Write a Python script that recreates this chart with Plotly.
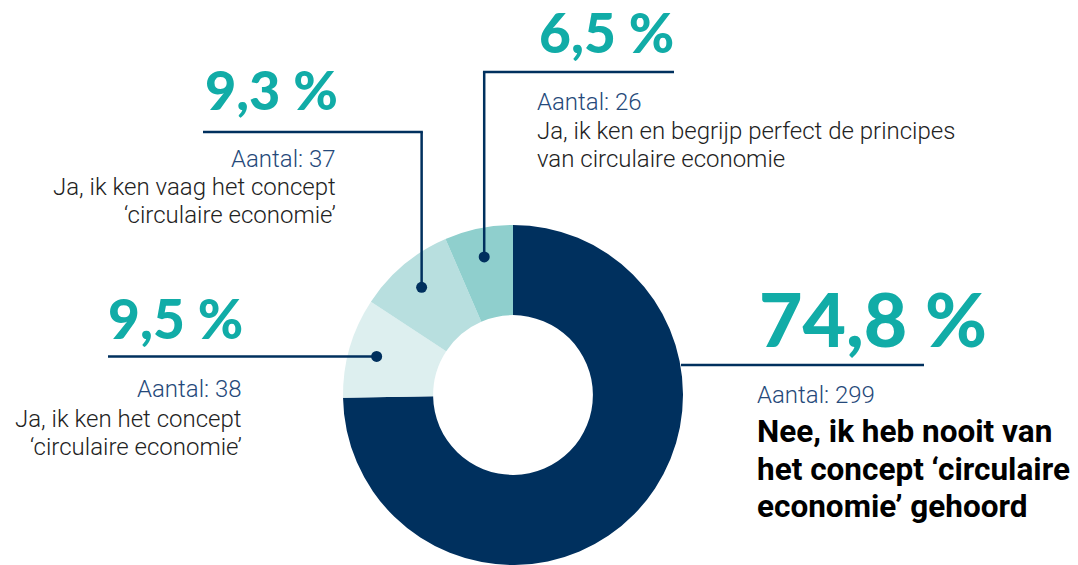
import math
import plotly.graph_objects as go

W, H = 1078, 565

# ---- data ----
categories = [
    "Nee, ik heb nooit van het concept ‘circulaire economie’ gehoord",
    "Ja, ik ken het concept ‘circulaire economie’",
    "Ja, ik ken vaag het concept ‘circulaire economie’",
    "Ja, ik ken en begrijp perfect de principes van circulaire economie",
]
counts = [299, 38, 37, 26]
percent_labels = ["74,8 %", "9,5 %", "9,3 %", "6,5 %"]
slice_colors = ["#00305e", "#ddefef", "#b8dfdf", "#8fcfcd"]

NAVY = "#00305e"
TEAL = "#11aca7"
AANTAL = "#25497a"
BODY = "#222222"

# pie geometry (pixels)
CX, CY, R = 513, 396, 171


def px(x):
    return x / W


def py(y):
    return 1 - y / H


fig = go.Figure()
fig.add_trace(go.Pie(
    values=counts,
    labels=categories,
    marker=dict(colors=slice_colors, line=dict(width=0)),
    hole=0.47,
    sort=False,
    direction="clockwise",
    rotation=0,
    textinfo="none",
    hoverinfo="label+value+percent",
    showlegend=False,
    domain=dict(x=[px(CX - R), px(CX + R)], y=[0, py(CY - R)]),
))

# slice mid angles (degrees clockwise from 12 o'clock) from the data
total = sum(counts)
mid_angles = []
acc = 0
for c in counts:
    mid_angles.append((acc + c / 2) / total * 360)
    acc += c

DOT_R = 142


def dot_xy(i):
    a = math.radians(mid_angles[i])
    return CX + DOT_R * math.sin(a), CY - DOT_R * math.cos(a)


shapes = []


def line(x0, y0, x1, y1):
    shapes.append(dict(type="line", xref="paper", yref="paper",
                       x0=px(x0), y0=py(y0), x1=px(x1), y1=py(y1),
                       line=dict(color=NAVY, width=2.5)))


def dot(x, y, r=5.5):
    shapes.append(dict(type="circle", xref="paper", yref="paper",
                       x0=px(x - r), y0=py(y + r), x1=px(x + r), y1=py(y - r),
                       fillcolor=NAVY, line=dict(width=0)))


# 6,5 %  (index 3)
dx, dy = dot_xy(3)
line(dx, dy, dx, 72)
line(dx - 1.25, 72, 674, 72)
dot(dx, dy)
# 9,3 %  (index 2)
dx, dy = dot_xy(2)
line(dx, dy, dx, 132)
line(203, 132, dx + 1.25, 132)
dot(dx, dy)
# 9,5 %  (index 1)
dx, dy = dot_xy(1)
line(108, dy, dx, dy)
dot(dx, dy)
# 74,8 % (index 0)
line(681, 365, 924, 365)

annotations = []


def text(t, x, baseline, size, color, anchor="left", family="Roboto", weight=None):
    f = dict(family=family, size=size, color=color)
    if weight is not None:
        f["weight"] = weight
    annotations.append(dict(text=t, xref="paper", yref="paper",
                            x=px(x), y=py(baseline - 0.34 * size),
                            xanchor=anchor, yanchor="middle",
                            showarrow=False, font=f))


BIG_FONT = "Lato"
SMALL = 24
BOLD = 31.5

# 6,5 %
text(percent_labels[3], 537, 51, 55, TEAL, "left", BIG_FONT, 900)
text(f"Aantal: {counts[3]}", 535, 110, SMALL, AANTAL, "left", "Roboto", 300)
text("Ja, ik ken en begrijp perfect de principes", 535, 139, SMALL, BODY, "left", "Roboto", 300)
text("van circulaire economie", 535, 167, SMALL, BODY, "left", "Roboto", 300)

# 9,3 %
text(percent_labels[2], 203, 108, 54, TEAL, "left", BIG_FONT, 900)
text(f"Aantal: {counts[2]}", 338, 167, SMALL, AANTAL, "right", "Roboto", 300)
text("Ja, ik ken vaag het concept", 338, 195, SMALL, BODY, "right", "Roboto", 300)
text("‘circulaire economie’", 338, 223, SMALL, BODY, "right", "Roboto", 300)

# 9,5 %
text(percent_labels[1], 106, 337, 55, TEAL, "left", BIG_FONT, 900)
text(f"Aantal: {counts[1]}", 244, 397, SMALL, AANTAL, "right", "Roboto", 300)
text("Ja, ik ken het concept", 244, 427, SMALL, BODY, "right", "Roboto", 300)
text("‘circulaire economie’", 244, 455, SMALL, BODY, "right", "Roboto", 300)

# 74,8 %
text(percent_labels[0], 757, 343, 75, TEAL, "left", BIG_FONT, 900)
text(f"Aantal: {counts[0]}", 755, 403, SMALL, AANTAL, "left", "Roboto", 300)
text("Nee, ik heb nooit van", 755, 442, BOLD, "#000000", "left", "Roboto", 700)
text("het concept ‘circulaire", 755, 480, BOLD, "#000000", "left", "Roboto", 700)
text("economie’ gehoord", 755, 517, BOLD, "#000000", "left", "Roboto", 700)

fig.update_layout(
    width=W, height=H,
    margin=dict(l=0, r=0, t=0, b=0),
    paper_bgcolor="white",
    plot_bgcolor="white",
    shapes=shapes,
    annotations=annotations,
    showlegend=False,
)

fig.write_html("out.html", config={"displayModeBar": False},
               post_script="document.body.style.margin='0px';")
